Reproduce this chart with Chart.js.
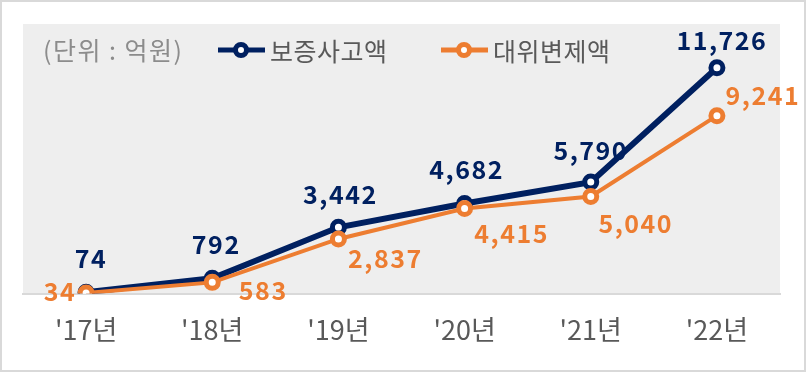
<!DOCTYPE html>
<html>
<head>
<meta charset="utf-8">
<script src="https://cdn.jsdelivr.net/npm/chart.js@4"></script>
<style>
  html, body { margin: 0; padding: 0; background: #fff; }
  #wrap { width: 808px; height: 376px; position: relative; }
</style>
</head>
<body>
<div id="wrap"><canvas id="lossChart" width="808" height="376"></canvas></div>
<script>
// 데이터 (단위: 억원)
const years = ["'17년", "'18년", "'19년", "'20년", "'21년", "'22년"];
const accidentAmount = [74, 792, 3442, 4682, 5790, 11726];   // 보증사고액
const subrogationAmount = [34, 583, 2837, 4415, 5040, 9241]; // 대위변제액
const seriesNames = ["보증사고액", "대위변제액"];
const unitText = "(단위 : 억원)";

const NAVY = "#002060";
const ORANGE = "#ED7D31";
const LABEL_FONT = "bold 25px 'Noto Sans CJK KR', sans-serif";

// 라벨 위치 (점 기준 오프셋)
const labelOffsets = [
    [[5, -34], [4, -34], [2, -33], [2, -34], [0, -32], [5, -27]],
    [[-26, -1], [51, 8], [47, 20], [47, 25], [45, 27], [46, -20]]
];

const bgPlugin = {
    id: "bgPlugin",
    beforeDraw(chart) {
        const { ctx, chartArea } = chart;
        ctx.save();
        ctx.fillStyle = "#fff";
        ctx.fillRect(0, 0, chart.width, chart.height);
        ctx.fillStyle = "#EEEEEE";
        ctx.fillRect(chartArea.left, chartArea.top, chartArea.right - chartArea.left, chartArea.bottom - chartArea.top);
        ctx.restore();
    },
    afterDraw(chart) {
        const ctx = chart.ctx;
        ctx.save();
        ctx.strokeStyle = "#D9D9D9";
        ctx.lineWidth = 2;
        ctx.strokeRect(1, 1, 804, 370);
        ctx.restore();
    }
};

// 범례 + 단위
const legendPlugin = {
    id: "legendPlugin",
    afterDraw(chart) {
        const ctx = chart.ctx;
        ctx.save();
        ctx.textBaseline = "middle";
        ctx.font = "25px 'Noto Sans CJK KR', sans-serif";
        ctx.fillStyle = "#8C8C8C";
        ctx.letterSpacing = "1.5px";
        ctx.fillText(unitText, 43, 50);

        const items = [[218, NAVY], [441, ORANGE]];
        chart.data.datasets.forEach((ds, i) => {
            const [x, color] = items[i];
            ctx.strokeStyle = color;
            ctx.lineWidth = 5;
            ctx.beginPath();
            ctx.moveTo(x, 50);
            ctx.lineTo(x + 47, 50);
            ctx.stroke();
            ctx.beginPath();
            ctx.arc(x + 23, 50, 5.5, 0, Math.PI * 2);
            ctx.fillStyle = "#fff";
            ctx.fill();
            ctx.lineWidth = 5;
            ctx.stroke();
            ctx.fillStyle = "#595959";
            ctx.font = "25px 'Noto Sans CJK KR', sans-serif";
            ctx.letterSpacing = "0.5px";
            ctx.fillText(ds.label, x + 52, 51);
        });
        ctx.restore();
    }
};

// 데이터 라벨
const labelPlugin = {
    id: "labelPlugin",
    afterDatasetsDraw(chart) {
        const ctx = chart.ctx;
        ctx.save();
        ctx.font = LABEL_FONT;
        ctx.textAlign = "center";
        ctx.textBaseline = "middle";
        ctx.letterSpacing = "1.5px";
        chart.data.datasets.forEach((ds, di) => {
            const meta = chart.getDatasetMeta(di);
            meta.data.forEach((pt, i) => {
                const off = labelOffsets[di][i];
                ctx.fillStyle = ds.borderColor;
                ctx.fillText(ds.data[i].toLocaleString("en-US"), pt.x + off[0], pt.y + off[1]);
            });
        });
        ctx.restore();
    }
};

new Chart(document.getElementById("lossChart"), {
    type: "line",
    data: {
        labels: years,
        datasets: [
            {
                label: seriesNames[0],
                data: accidentAmount,
                borderColor: NAVY,
                borderWidth: 6,
                pointRadius: 6,
                pointBorderWidth: 5,
                pointBackgroundColor: "#fff",
                pointBorderColor: NAVY,
                order: 1
            },
            {
                label: seriesNames[1],
                data: subrogationAmount,
                borderColor: ORANGE,
                borderWidth: 4,
                pointRadius: 6,
                pointBorderWidth: 5,
                pointBackgroundColor: "#fff",
                pointBorderColor: ORANGE,
                order: 0
            }
        ]
    },
    options: {
        responsive: false,
        animation: false,
        layout: { padding: { left: 23, right: 28, top: 24, bottom: 10 } },
        plugins: {
            legend: { display: false },
            tooltip: { enabled: false }
        },
        scales: {
            x: {
                offset: true,
                grid: { display: false, drawTicks: false },
                border: { display: true, color: "#D9D9D9", width: 2 },
                ticks: {
                    padding: 20,
                    color: "#595959",
                    font: { family: "'Noto Sans CJK KR', sans-serif", size: 27 }
                }
            },
            y: {
                display: false,
                min: 0,
                max: 14000
            }
        }
    },
    plugins: [bgPlugin, legendPlugin, labelPlugin]
});
</script>
</body>
</html>
